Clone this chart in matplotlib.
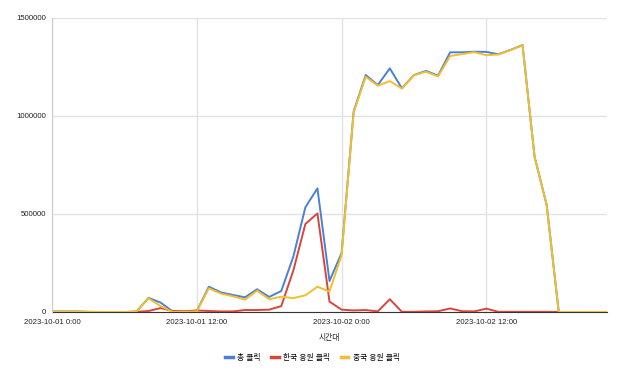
import matplotlib
matplotlib.use("Agg")
import matplotlib.pyplot as plt
import pandas as pd

plt.rcParams["font.family"] = ["Liberation Sans", "Noto Sans CJK KR"]

BLUE, RED, YELLOW = "#4a80d8", "#d8463b", "#f2be2c"
GRID, AXIS, TXT = "#e2e2e2", "#333333", "#222222"

hours = pd.date_range("2023-10-01 00:00", periods=47, freq="h")

total = [3000, 3000, 3000, 1000, 0, 0, 0, 2000, 72000, 48000, 3000, 2000,
         5000, 129000, 100000, 87000, 75000, 116000, 77000, 107000, 282000, 534000, 631000, 158000,
         300000, 1022000, 1209000, 1158000, 1243000, 1141000, 1209000, 1230000, 1206000, 1325000, 1325000, 1328000,
         1327000, 1315000, 1337000, 1362000, 792000, 546000, 0, 0, 0, 0, 0]
korea = [0, 0, 0, 0, 0, 0, 0, 1000, 5000, 20000, 5000, 3000,
         8000, 5000, 3000, 3000, 10000, 10000, 12000, 30000, 211000, 449000, 503000, 53000,
         12000, 8000, 10000, 3000, 65000, 1000, 1000, 3000, 4000, 18000, 4000, 3000,
         17000, 1000, 1000, 1000, 1000, 1000, 0, 0, 0, 0, 0]
china = [2000, 2000, 2000, 1000, 0, 0, 0, 2000, 70000, 30000, 0, 0,
         3000, 121000, 94000, 80000, 63000, 109000, 65000, 78000, 71000, 85000, 129000, 104000,
         290000, 1018000, 1200000, 1155000, 1178000, 1140000, 1208000, 1226000, 1202000, 1306000, 1316000, 1326000,
         1310000, 1314000, 1336000, 1361000, 791000, 545000, 0, 0, 0, 0, 0]

series = ["총 클릭", "한국 응원 클릭", "중국 응원 클릭"]
xticks = ["2023-10-01 0:00", "2023-10-01 12:00", "2023-10-02 0:00", "2023-10-02 12:00"]
yticks = [0, 500000, 1000000, 1500000]

fig = plt.figure(figsize=(6.33, 3.91), dpi=100)
ax = fig.add_axes([52 / 633, 1 - 312 / 391, 555 / 633, 294 / 391])

ax.plot(hours, total, color=BLUE, lw=1.4, label=series[0])
ax.plot(hours, korea, color=RED, lw=1.4, label=series[1])
ax.plot(hours, china, color=YELLOW, lw=1.4, label=series[2])

ax.set_xlim(hours[0], hours[-1])
ax.set_ylim(0, 1500000)
ax.set_yticks(yticks)
ax.set_yticklabels([str(v) for v in yticks])
ax.set_xticks(hours[::12])
ax.set_xticklabels(xticks)
ax.tick_params(length=0, labelsize=5.6, colors=TXT)
ax.tick_params(axis="x", pad=5)
ax.tick_params(axis="y", pad=4)
ax.grid(True, color=GRID, lw=1)
ax.set_axisbelow(True)
for s in ("top", "right"):
    ax.spines[s].set_visible(False)
ax.spines["left"].set_color("#cccccc")
ax.spines["bottom"].set_color(AXIS)
ax.spines["bottom"].set_zorder(1)

ax.set_xlabel("시간대", fontsize=5.6, color=TXT, labelpad=6)
fig.legend(loc="center", bbox_to_anchor=(312.5 / 633, 1 - 358 / 391), ncol=3, frameon=False,
           fontsize=5.6, handlelength=1.0, handletextpad=0.6, columnspacing=1.3)
for line in fig.legends[0].get_lines():
    line.set_linewidth(2.5)

fig.savefig("out.png", dpi=100, facecolor="white")
